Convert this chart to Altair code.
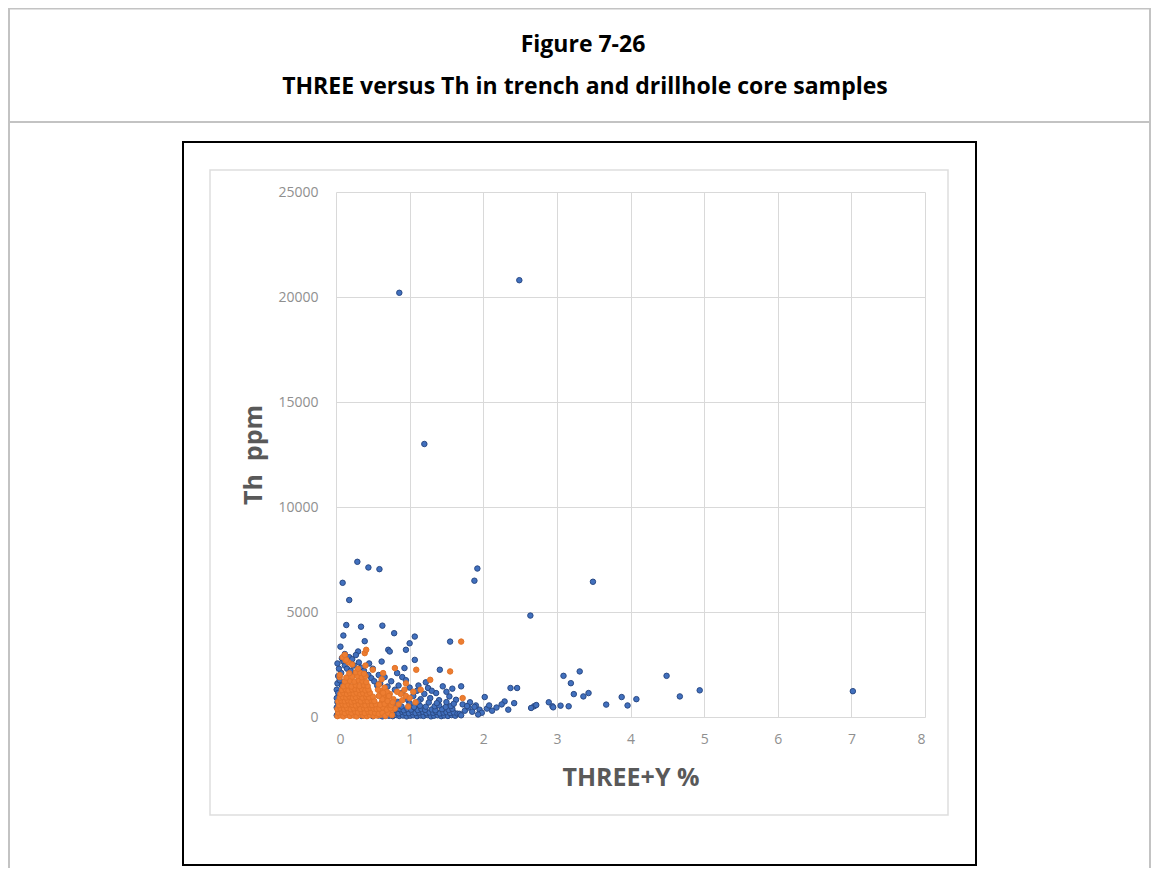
import altair as alt
import pandas as pd

# ---------------- text ----------------
fig_title = ["Figure 7-26", "THREE versus Th in trench and drillhole core samples"]
x_title = "THREE+Y %"
y_title = "Th\u00a0\u00a0ppm"
x_ticks = [0, 1, 2, 3, 4, 5, 6, 7, 8]
y_ticks = [0, 5000, 10000, 15000, 20000, 25000]
series_names = ["Drillhole core", "Trench"]
series_fill = ["#4170BE", "#ED7D31"]
series_edge = ["#2A4A85", "#E27328"]

# ---------------- blue series (drillhole core) ----------------
core_outlier_x = [0.86, 2.49, 1.20, 0.29, 0.44, 0.59, 0.09, 0.18, 1.92, 1.88,
                  3.49, 2.64, 0.14, 0.34, 0.63, 0.79, 0.10, 1.07, 0.39, 1.00,
                  0.06, 0.95, 0.71, 0.30, 0.73, 1.55, 1.07, 0.62, 1.41, 0.93,
                  0.83, 3.09, 3.31, 4.49, 3.19, 2.37, 2.46, 3.23, 3.43, 3.36,
                  4.94, 4.67, 3.88, 4.08, 3.96, 3.67, 2.02, 2.29, 2.42, 2.34,
                  2.89, 2.94, 2.69, 3.05, 3.16, 7.02, 2.72, 2.65, 2.95, 1.70,
                  1.45, 1.25, 1.36, 1.54, 1.63]
core_outlier_y = [20200, 20800, 13000, 7390, 7120, 7040, 6390, 5570, 7070, 6490,
                  6440, 4830, 4380, 4300, 4350, 3990, 3880, 3830, 3610, 3510,
                  3350, 3200, 3200, 3120, 3120, 3590, 2720, 2640, 2250, 2330,
                  2090, 1960, 2170, 1960, 1610, 1380, 1380, 1090, 1140, 980,
                  1270, 980, 950, 850, 550, 590, 950, 740, 660, 350,
                  700, 510, 510, 540, 510, 1230, 570, 430, 460, 1460,
                  1460, 1380, 1140, 980, 820]

core_left_x = [0.02, 0.05, 0.03, 0.07, 0.04, 0.08, 0.01, 0.03, 0.02, 0.10,
               0.12, 0.15, 0.20, 0.26, 0.24, 0.31, 0.34, 0.38, 0.44, 0.48,
               0.52, 0.56, 0.18, 0.22, 0.27, 0.45, 0.50, 0.12, 0.08, 0.01,
               0.02, 0.01, 0.03, 0.01]
core_left_y = [1600, 1750, 1950, 2100, 2300, 1500, 1300, 1150, 2550, 2650,
               2450, 2300, 2200, 2050, 2450, 2600, 2350, 2200, 2000, 1850,
               1700, 1500, 2850, 2750, 2950, 2550, 2300, 3000, 2800, 900,
               700, 450, 250, 80]

core_mid_x = [0.60, 0.70, 0.75, 0.85, 0.90, 0.80, 0.95, 1.00, 0.66, 0.58,
              1.10, 1.20, 1.30, 1.05, 0.90, 1.15, 1.28, 1.40, 0.98, 1.12,
              1.22, 1.50, 1.58]
core_mid_y = [1600, 1450, 1700, 1500, 1900, 1300, 1750, 1400, 1900, 2000,
              1250, 1100, 1250, 1000, 1150, 850, 900, 800, 800, 1500,
              1650, 1200, 1350]

core_band_x = [0.35, 0.42, 0.50, 0.58, 0.63, 0.68, 0.72, 0.77, 0.82, 0.86,
               0.91, 0.96, 1.01, 1.05, 1.10, 1.15, 1.19, 1.24, 1.29, 1.33,
               1.38, 1.43, 1.47, 1.52, 1.57, 1.62,
               0.60, 0.66, 0.71, 0.76, 0.80, 0.85, 0.90, 0.94, 0.99, 1.04,
               1.08, 1.13, 1.18, 1.23, 1.27, 1.32, 1.36, 1.41, 1.46, 1.50,
               1.55, 1.60, 1.65,
               0.62, 0.69, 0.74, 0.79, 0.87, 0.92, 0.97, 1.02, 1.11, 1.16,
               1.21, 1.30, 1.35, 1.44, 1.53, 1.58,
               0.65, 0.73, 0.81, 0.89, 1.06, 1.14, 1.22, 1.34, 1.40, 1.49,
               1.56,
               0.67, 0.84, 1.00, 1.12, 1.26, 1.37, 1.50, 1.60,
               1.68, 1.75, 1.80, 1.85, 1.90, 1.95, 1.72, 1.82, 2.05, 2.12,
               2.18, 1.78, 1.88, 2.25, 1.98, 2.08, 1.70, 1.93]
core_band_y = [50, 90, 40, 70, 30, 80, 60, 40, 90, 50,
               70, 30, 60, 80, 40, 70, 50, 90, 30, 60,
               80, 40, 70, 50, 90, 60,
               210, 180, 230, 190, 220, 170, 240, 200, 180, 230,
               190, 210, 250, 180, 220, 200, 240, 170, 210, 230,
               190, 220, 160,
               360, 330, 380, 340, 370, 320, 390, 350, 330, 380,
               340, 360, 320, 370, 340, 390,
               520, 480, 540, 500, 470, 530, 490, 510, 550, 480,
               520,
               680, 720, 650, 740, 690, 660, 710, 630,
               150, 300, 450, 250, 550, 350, 600, 700, 400, 300,
               450, 520, 480, 600, 200, 550, 80, 120]

# ---------------- orange series (trench) ----------------
trench_x = [0.02, 0.06, 0.10, 0.15, 0.19, 0.24, 0.28, 0.33, 0.37, 0.42, 0.46, 0.51, 0.56,
            0.03, 0.08, 0.12, 0.17, 0.21, 0.26, 0.30, 0.35, 0.39, 0.44, 0.48, 0.53,
            0.02, 0.06, 0.11, 0.15, 0.20, 0.24, 0.29, 0.33, 0.38, 0.42, 0.47, 0.51, 0.55,
            0.04, 0.09, 0.13, 0.18, 0.22, 0.27, 0.31, 0.36, 0.40, 0.45, 0.49, 0.54,
            0.03, 0.07, 0.12, 0.16, 0.21, 0.25, 0.30, 0.34, 0.39, 0.43, 0.48, 0.52,
            0.05, 0.09, 0.14, 0.18, 0.23, 0.27, 0.32, 0.36, 0.41, 0.45, 0.50,
            0.06, 0.10, 0.15, 0.19, 0.24, 0.28, 0.33, 0.37, 0.42, 0.46,
            0.08, 0.13, 0.17, 0.22, 0.26, 0.31, 0.35, 0.40, 0.44,
            0.10, 0.16, 0.21, 0.27, 0.32, 0.38, 0.43,
            0.12, 0.19, 0.25, 0.31, 0.36, 0.41,
            0.05, 0.14, 0.22, 0.29, 0.35, 0.40,
            0.18, 0.27, 0.33, 0.38,
            0.13, 0.09, 0.17, 0.22, 0.30, 0.40, 0.39, 0.41, 0.12, 0.14,
            0.60, 0.65, 0.70, 0.62, 0.68, 0.73, 0.60, 0.66, 0.75, 0.72,
            0.78, 0.80, 0.64, 0.58, 0.62, 0.85, 0.90, 0.95, 0.88, 1.00,
            1.05, 0.93, 1.08, 0.98, 0.83,
            0.58, 0.63, 0.67, 0.71, 0.76, 0.59, 0.64, 0.69, 0.74, 0.60,
            0.66, 0.70, 0.75, 0.63, 0.58, 0.69, 0.64, 0.57, 0.72, 0.77,
            0.80, 0.64, 1.09, 1.55, 1.28, 1.70, 0.50, 0.95, 1.15, 1.72, 0.05]
trench_y = [40, 80, 30, 90, 50, 70, 30, 100, 60, 40, 90, 50, 70,
            210, 250, 190, 240, 200, 260, 210, 230, 190, 250, 220, 200,
            380, 420, 390, 430, 370, 410, 440, 380, 420, 390, 430, 400, 380,
            560, 600, 570, 620, 580, 550, 610, 590, 560, 600, 570, 610,
            740, 780, 750, 790, 730, 770, 800, 740, 780, 750, 790, 760,
            920, 960, 930, 980, 910, 950, 990, 920, 960, 930, 970,
            1100, 1150, 1090, 1140, 1110, 1160, 1100, 1130, 1090, 1150,
            1280, 1320, 1270, 1310, 1340, 1290, 1330, 1270, 1310,
            1460, 1500, 1450, 1510, 1470, 1520, 1480,
            1690, 1720, 1680, 1740, 1700, 1660,
            1900, 1880, 1920, 1950, 1890, 1940,
            2080, 2130, 2100, 2060,
            2700, 2850, 2600, 2500, 2300, 2450, 3040, 3200, 2960, 2720,
            100, 300, 500, 700, 900, 1100, 1250, 1400, 250, 650,
            850, 400, 1000, 1550, 1800, 600, 800, 1000, 1100, 900,
            1200, 1300, 700, 500, 1200,
            150, 200, 50, 180, 90, 400, 450, 350, 420, 580,
            620, 760, 560, 850, 1000, 1200, 1150, 1300, 1000, 700,
            2330, 2090, 2250, 2170, 1770, 3590, 2250, 1600, 1300, 900, 2000]

core_x = core_outlier_x + core_left_x + core_mid_x + core_band_x
core_y = core_outlier_y + core_left_y + core_mid_y + core_band_y

points = pd.concat([
    pd.DataFrame({"x": core_x, "y": core_y, "series": series_names[0], "order": 0}),
    pd.DataFrame({"x": trench_x, "y": trench_y, "series": series_names[1], "order": 1}),
], ignore_index=True)

W, H = 589, 525
one = pd.DataFrame({"k": [0]})

def hline(x1, x2, y, color, width):
    return alt.Chart(one).mark_rule(color=color, strokeWidth=width).encode(
        x=alt.value(x1), x2=alt.value(x2), y=alt.value(y))

def vline(x, y1, y2, color, width):
    return alt.Chart(one).mark_rule(color=color, strokeWidth=width).encode(
        x=alt.value(x), y=alt.value(y1), y2=alt.value(y2))

def box(x1, x2, y1, y2, color, width):
    return alt.Chart(one).mark_rect(fill="transparent", stroke=color, strokeWidth=width).encode(
        x=alt.value(x1), x2=alt.value(x2), y=alt.value(y1), y2=alt.value(y2))

page_grey = "#c3c3c3"
deco = [
    hline(-327.5, 814.5, -183.5, page_grey, 2),
    vline(-327, -184, 676, page_grey, 2),
    vline(814, -184, 676, page_grey, 2),
    hline(-327.5, 814.5, -70, page_grey, 2),
    box(-153, 640, -50, 673, "#000000", 2),
    box(-126, 612, -22, 623, "#dedede", 1.5),
]

t1 = alt.Chart(pd.DataFrame({"t": [fig_title[0]]})).mark_text(
    font="Open Sans", fontWeight="bold", fontSize=23, color="#000000",
    align="center", baseline="middle").encode(
    x=alt.value(247), y=alt.value(-147), text="t:N")
t2 = alt.Chart(pd.DataFrame({"t": [fig_title[1]]})).mark_text(
    font="Open Sans", fontWeight="bold", fontSize=23, color="#000000",
    align="center", baseline="middle").encode(
    x=alt.value(249), y=alt.value(-105), text="t:N")

scatter = alt.Chart(points).mark_circle(size=30, opacity=1, strokeWidth=1).encode(
    x=alt.X("x:Q", scale=alt.Scale(domain=[0, 8], nice=False, zero=False),
            axis=alt.Axis(values=x_ticks, title=x_title, format="d",
                          labelPadding=15, titleY=60, titleBaseline="middle")),
    y=alt.Y("y:Q", scale=alt.Scale(domain=[0, 25000], nice=False),
            axis=alt.Axis(values=y_ticks, title=y_title, format="d",
                          labelPadding=18, titleX=-83, titleY=H / 2,
                          titleBaseline="middle", titleAlign="center")),
    color=alt.Color("series:N", scale=alt.Scale(domain=series_names, range=series_fill), legend=None),
    stroke=alt.Stroke("series:N", scale=alt.Scale(domain=series_names, range=series_edge), legend=None),
    order=alt.Order("order:Q"),
)

chart = alt.layer(*deco, t1, t2, scatter).properties(
    width=W, height=H,
    padding={"left": 328, "top": 184, "right": 226, "bottom": 151},
    autosize=alt.AutoSizeParams(type="none"),
).configure_view(stroke=None).configure_axis(
    grid=True, gridColor="#d9d9d9", gridWidth=1, domain=False, ticks=False,
    labelFont="Open Sans", labelFontSize=14, labelColor="#8f8f8f",
    titleFont="Open Sans", titleFontSize=25, titleFontWeight="bold", titleColor="#595959",
)

chart.save("out.html", embed_options={"renderer": "svg", "actions": False})
